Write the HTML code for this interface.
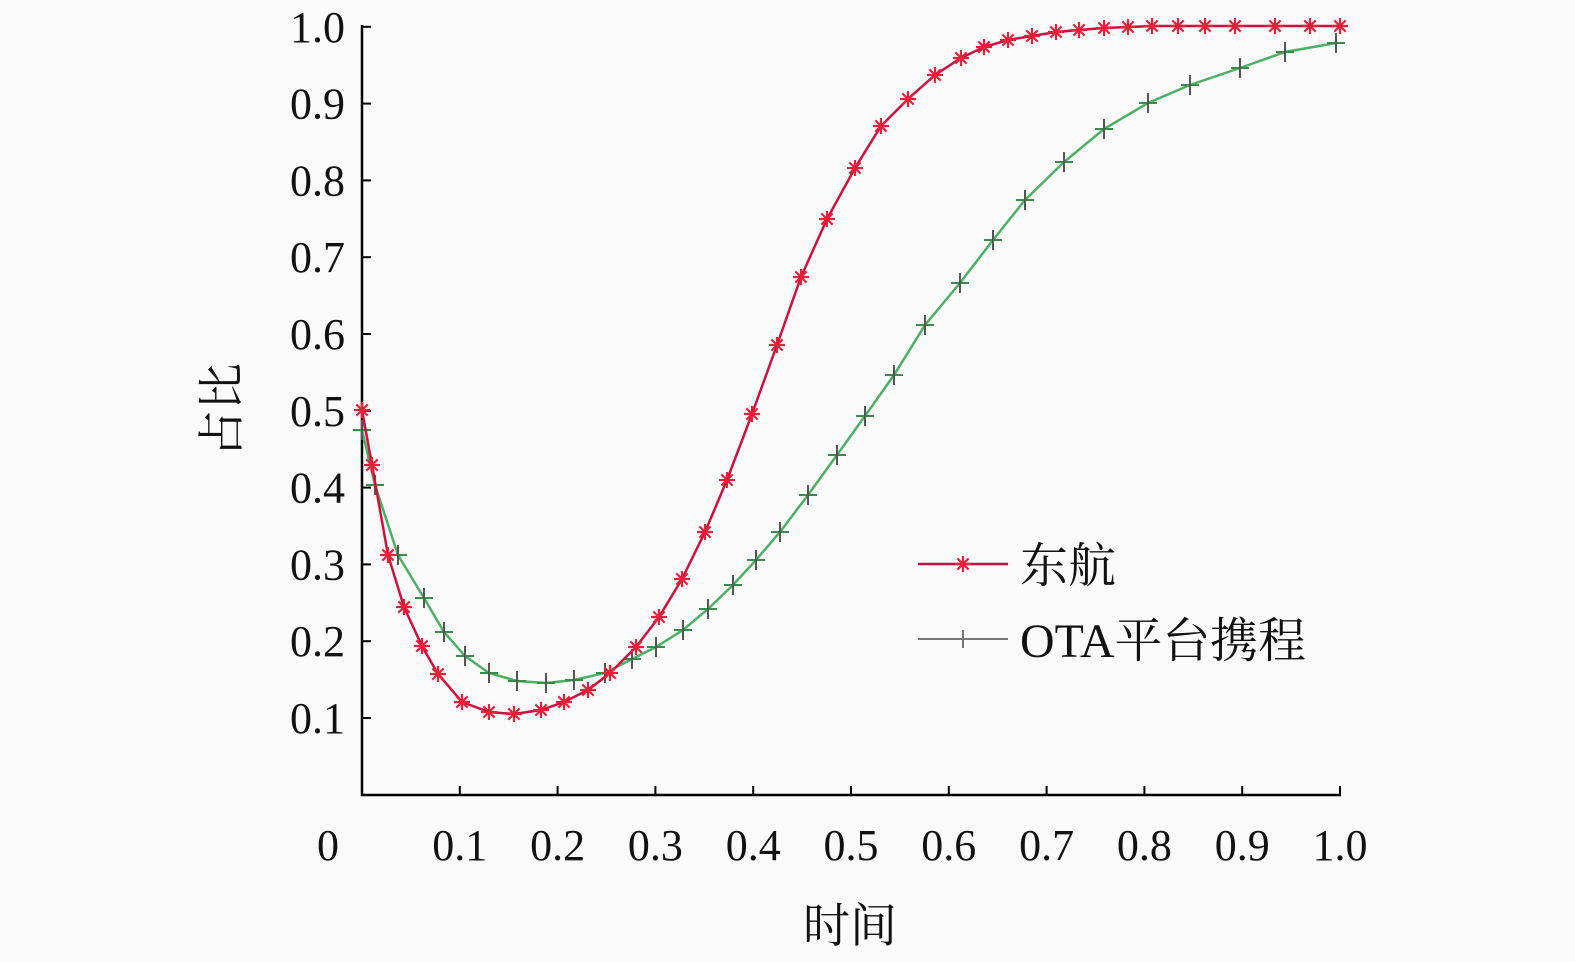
<!DOCTYPE html><html><head><meta charset="utf-8"><style>html,body{margin:0;padding:0;background:#fafafa}svg{display:block}</style></head><body>
<svg width="1575" height="962" xmlns="http://www.w3.org/2000/svg" font-family="Liberation Serif, Noto Serif CJK SC, serif">
<rect width="1575" height="962" fill="#fafafa"/>
<g stroke="#000" stroke-width="2.5" fill="none">
<line x1="362" y1="25" x2="362" y2="796"/><line x1="361" y1="795" x2="1341" y2="795"/>
</g>
<g id="ticks" stroke="#000" stroke-width="2"></g>
<g font-size="44" fill="#111" text-anchor="end" id="yl"></g>
<g font-size="44" fill="#111" text-anchor="middle" id="xl"></g>
<text x="850" y="942" font-size="47" text-anchor="middle" fill="#111">时间</text>
<text transform="translate(238,410) rotate(-90)" font-size="47" text-anchor="middle" fill="#111">占比</text>
<g id="green"></g><g id="red"></g>
<g>
<line x1="918" y1="564" x2="1008" y2="564" stroke="#c0143c" stroke-width="2.5"/>
<line x1="918" y1="639" x2="1008" y2="639" stroke="#777" stroke-width="2"/>
<line x1="963" y1="630" x2="963" y2="648" stroke="#777" stroke-width="2"/>
<text x="1020" y="582" font-size="48" fill="#111">东航</text>
<text x="1020" y="657" font-size="48" fill="#111" textLength="286" lengthAdjust="spacingAndGlyphs">OTA平台携程</text>
</g>
</svg>
<script>
const NS="http://www.w3.org/2000/svg";
function el(p,t,a,txt){const e=document.createElementNS(NS,t);for(const k in a)e.setAttribute(k,a[k]);if(txt!==undefined)e.textContent=txt;p.appendChild(e);return e;}
const tk=document.getElementById('ticks'),yl=document.getElementById('yl'),xl=document.getElementById('xl');
for(let i=1;i<=10;i++){const y=794.8-76.8*i;el(tk,'line',{x1:362,y1:y,x2:371,y2:y});el(yl,'text',{x:345,y:y+15},(i/10).toFixed(1));}
for(let i=0;i<=10;i++){const x=362+97.8*i;el(tk,'line',{x1:x,y1:786,x2:x,y2:795});el(xl,'text',{x:i==0?328:x,y:860},i==0?'0':(i/10).toFixed(1));}
const R=[[362,410],[372,465],[388,555],[404,607],[422,646],[438,674],[462,702],[489,712],[514,714],[541,710],[564,702],[588,690],[610,673],[636,647],[659,617],[682,579],[705,532],[727,480],[752,414],[777,345],[801,277],[827,219],[855,168],[881,126],[908,99],[935,75],[961,58],[984,47],[1008,40],[1032,36],[1056,32],[1079,30],[1104,28],[1128,27],[1152,26],[1178,26],[1205,26],[1235,26],[1275,26],[1310,26],[1340,26]];
const G=[[362,430],[375,485],[398,555],[424,598],[444,632],[465,656],[489,673],[517,681],[546,683],[574,680],[605,673],[632,659],[656,647],[683,630],[708,609],[733,585],[756,560],[780,532],[808,495],[837,455],[865,416],[894,375],[925,325],[960,283],[993,240],[1025,200],[1064,162],[1104,129],[1148,103],[1190,85],[1240,68],[1285,52],[1336,43]];
const g=document.getElementById('green'),r=document.getElementById('red');
el(g,'polyline',{points:G.map(p=>p.join(',')).join(' '),fill:'none',stroke:'#4caf62',"stroke-width":2.5});
G.forEach(([x,y])=>{el(g,'line',{x1:x-9,y1:y,x2:x+9,y2:y,stroke:'#3a8a4a',"stroke-width":2});el(g,'line',{x1:x,y1:y-10,x2:x,y2:y+10,stroke:'#555',"stroke-width":2});});
el(r,'polyline',{points:R.map(p=>p.join(',')).join(' '),fill:'none',stroke:'#d0103c',"stroke-width":2.5});
function star(p,x,y){for(let k=0;k<4;k++){const a=k*Math.PI/4,dx=8*Math.cos(a),dy=8*Math.sin(a);el(p,'line',{x1:x-dx,y1:y-dy,x2:x+dx,y2:y+dy,stroke:'#e8203a',"stroke-width":2.2});}}
R.forEach(([x,y])=>star(r,x,y));
star(document.querySelector('svg'),963,564);
</script>
</body></html>
